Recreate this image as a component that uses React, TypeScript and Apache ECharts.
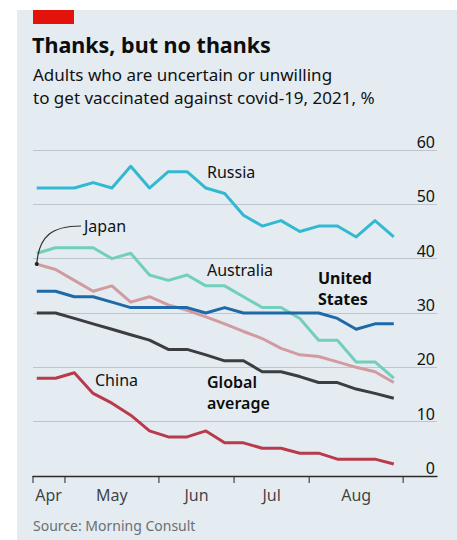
import React, { useEffect, useRef } from "react";
import * as echarts from "echarts";

// Weekly readings, early April to late August 2021 (week index 0..19)
const russia = [53, 53, 53, 54, 53, 57, 53, 56, 56, 53, 52, 48, 46, 47, 45, 46, 46, 44, 47, 44];
const australia = [41, 42, 42, 42, 40, 41, 37, 36, 37, 35, 35, 33, 31, 31, 29, 25, 25, 21, 21, 18];
const japan = [39, 38, 36, 34, 35, 32, 33, 31.5, 30.5, 29.3, 28, 26.6, 25.3, 23.5, 22.3, 22, 21, 20, 19.2, 17.2];
const unitedStates = [34, 34, 33, 33, 32, 31, 31, 31, 31, 30, 31, 30, 30, 30, 30, 30, 29, 27, 28, 28];
const globalAverage = [30, 30, 29, 28, 27, 26, 25, 23.3, 23.3, 22.3, 21.2, 21.2, 19.2, 19.2, 18.3, 17.2, 17.2, 16, 15.2, 14.3];
const china = [18, 18, 19, 15.2, 13.4, 11.2, 8.3, 7.2, 7.2, 8.3, 6.1, 6.1, 5.1, 5.1, 4.2, 4.2, 3.1, 3.1, 3.1, 2.2];

const monthNames = ["Apr", "May", "Jun", "Jul", "Aug"];
const monthLabelPos = [0.63, 4, 8.5, 12.5, 17];
const monthTickPos = [-0.2, 1.5, 6.5, 10.5, 14.5, 19.5];

const X_MIN = -0.2;
const X_MAX = 21.3;
const Y_MIN = 0;
const Y_MAX = 60;
const Y_STEP = 10;

const FONT = "'Noto Sans'";

const toPairs = (arr: number[]) => arr.map((v, i) => [i, v]);

export default function App() {
  const ref = useRef<HTMLDivElement>(null);

  useEffect(() => {
    if (!ref.current) return;
    const chart = echarts.init(ref.current, undefined, { renderer: "svg" });

    const line = (name: string, data: number[], color: string, z: number) => ({
      name,
      type: "line",
      data: toPairs(data),
      symbol: "none",
      z,
      lineStyle: { color, width: 3, join: "round" },
      itemStyle: { color },
      silent: true,
    });

    chart.setOption({
      animation: false,
      backgroundColor: "#ffffff",
      grid: { left: 33, right: 20, top: 150, bottom: 64 },
      xAxis: {
        type: "value",
        min: X_MIN,
        max: X_MAX,
        axisLine: { show: true, lineStyle: { color: "#2a2a2a", width: 1.3 } },
        axisTick: { show: false },
        axisLabel: { show: false },
        splitLine: { show: false },
      },
      yAxis: {
        type: "value",
        position: "right",
        min: Y_MIN,
        max: Y_MAX,
        interval: Y_STEP,
        axisLine: { show: false },
        axisTick: { show: false },
        splitLine: { lineStyle: { color: "#bdc6cd", width: 1 } },
        axisLabel: {
          inside: true,
          margin: 2,
          verticalAlign: "bottom",
          fontSize: 16,
          color: "#111",
          fontFamily: FONT,
        },
      },
      series: [
        line("Russia", russia, "#33b8d2", 3),
        line("Australia", australia, "#72cfbb", 3),
        line("Japan", japan, "#d29ba0", 3),
        line("Global average", globalAverage, "#3b3d40", 3),
        line("China", china, "#b93a4b", 3),
        line("United States", unitedStates, "#1f69a6", 4),
        {
          type: "scatter",
          data: monthTickPos.map((p) => [p, 0]),
          symbol: "rect",
          symbolSize: [1.3, 7],
          symbolOffset: [0, 3.5],
          itemStyle: { color: "#2a2a2a" },
          clip: false,
          silent: true,
          z: 6,
        },
        {
          type: "scatter",
          data: monthLabelPos.map((p, i) => ({ value: [p, 0], name: monthNames[i] })),
          symbolSize: 2,
          itemStyle: { color: "rgba(0,0,0,0)" },
          clip: false,
          silent: true,
          z: 6,
          label: {
            show: true,
            position: "bottom",
            distance: 10,
            formatter: (p: any) => p.name,
            fontSize: 16,
            color: "#111",
            fontFamily: FONT,
          },
        },
      ],
    });

    const p0 = chart.convertToPixel({ gridIndex: 0 }, [0, japan[0]]) as number[];

    const txt = (text: string, x: number, y: number, size: number, weight: any = "normal", color = "#111") => ({
      type: "text",
      x,
      y,
      silent: true,
      z: 10,
      style: {
        text,
        fill: color,
        font: `${weight} ${size}px ${FONT}`,
        verticalAlign: "middle",
        align: "left",
      },
    });

    chart.setOption({
      graphic: [
        { type: "rect", z: -10, silent: true, shape: { x: 17, y: 10, width: 440, height: 530 }, style: { fill: "#e4ecf2" } },
        { type: "rect", z: 1, silent: true, shape: { x: 33, y: 10, width: 41, height: 14 }, style: { fill: "#e3120b" } },
        txt("Thanks, but no thanks", 32, 44, 21.5, "bold", "#0d0d0d"),
        txt("Adults who are uncertain or unwilling", 33, 74, 17),
        txt("to get vaccinated against covid-19, 2021, %", 33, 97, 17),
        txt("Russia", 207, 172, 16),
        txt("Australia", 207, 270, 16),
        txt("Japan", 84, 226, 16),
        txt("United", 318, 278, 16, "bold", "#0d0d0d"),
        txt("States", 318, 299, 16, "bold", "#0d0d0d"),
        txt("Global", 207, 382, 16, 600, "#0d0d0d"),
        txt("average", 207, 403, 16, 600, "#0d0d0d"),
        txt("China", 95, 380, 16),
        txt("Source: Morning Consult", 33, 525, 14, "normal", "#6b6f73"),
        {
          type: "bezierCurve",
          silent: true,
          z: 9,
          shape: {
            x1: p0[0],
            y1: p0[1],
            cpx1: p0[0] + 2,
            cpy1: 236,
            cpx2: 52,
            cpy2: 226,
            x2: 81,
            y2: 226,
          },
          style: { stroke: "#333", lineWidth: 1.2, fill: "none" },
        },
        { type: "circle", silent: true, z: 9, shape: { cx: p0[0], cy: p0[1], r: 2 }, style: { fill: "#222" } },
      ],
    });

    return () => chart.dispose();
  }, []);

  return <div ref={ref} style={{ position: "absolute", left: 0, top: 0, width: 457, height: 540 }} />;
}
